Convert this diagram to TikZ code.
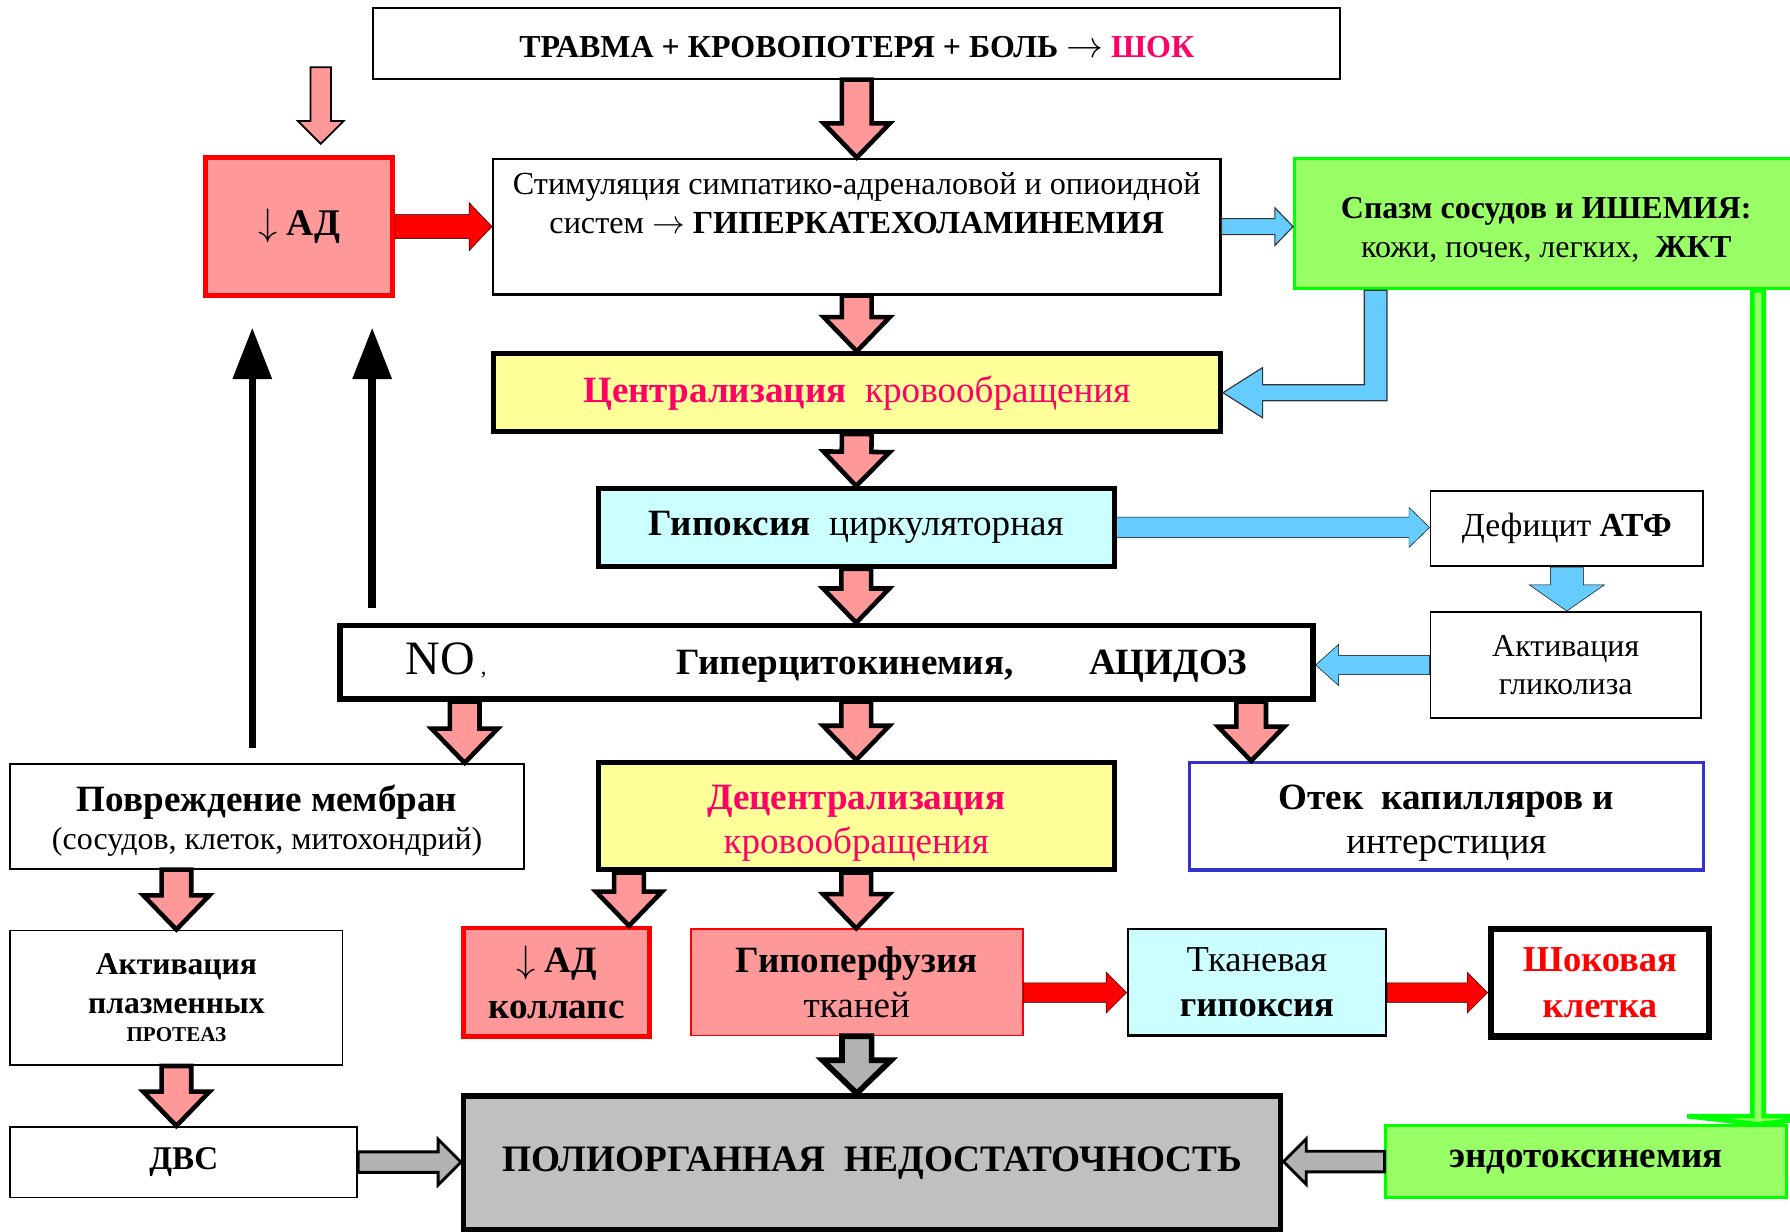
\documentclass[tikz,border=0pt]{standalone}
\usepackage{graphicx}
\usepackage{fontspec}
\setmainfont{Liberation Serif}
\usetikzlibrary{calc,arrows.meta}

\definecolor{cRose}{HTML}{FF9999}
\definecolor{cCrimson}{HTML}{FF0066}
\definecolor{cLemon}{HTML}{FFFF99}
\definecolor{cIce}{HTML}{CCFFFF}
\definecolor{cLime}{HTML}{99FF66}
\definecolor{cGrass}{HTML}{00FF00}
\definecolor{cSky}{HTML}{66CCFF}
\definecolor{cNavy}{HTML}{3333CC}
\definecolor{cGrey}{HTML}{C0C0C0}
\definecolor{cArrowGrey}{HTML}{B2B2B2}

\newcommand{\fsz}[2]{\fontsize{#1}{#2}\selectfont}
\newcommand{\fatarrow}[6][]{%
	\coordinate (fa-h) at ($(#3)!#6!(#2)$);
	\draw[#1] ($(#2)!#4!90:(#3)$) -- ($(fa-h)!#4!-90:(#2)$) -- ($(fa-h)!#5!-90:(#2)$) -- (#3)
		-- ($(fa-h)!#5!90:(#2)$) -- ($(fa-h)!#4!90:(#2)$) -- ($(#2)!#4!-90:(#3)$) -- cycle;}

\begin{document}
\begin{tikzpicture}[x=1pt, y=-1pt,
	box/.style={draw, line width=1.5pt, fill=white, inner sep=0pt, align=center},
	heavy/.style={box, line width=4.5pt},
	rosearrow/.style={draw=black, fill=cRose, line width=4pt},
	greyarrow/.style={draw=black, fill=cArrowGrey, line width=2.5pt},
	skyarrow/.style={fill=cSky},
	redarrow/.style={fill=red},
	riser/.style={line width=6.5pt, shorten <=13pt, shorten >=26pt, -{Triangle[length=45pt,width=33pt]}}]
		\useasboundingbox (0,0) rectangle (1568,1079);

		\draw (750.5,38) node (trauma) [box, minimum width=847, minimum height=62, font=\fsz{28}{32}\bfseries] {\rule{0pt}{25pt}ТРАВМА + КРОВОПОТЕРЯ + БОЛЬ \scalebox{1.3}{$\rightarrow$} \textcolor{cCrimson}{ШОК}};
		\draw (262,198.5) node (adtop) [box, draw=red, fill=cRose, line width=4pt, minimum width=164, minimum height=121, font=\fsz{33}{38}\bfseries] {\scalebox{1.35}{$\downarrow$} АД};
		\draw (750.5,198.5) node (stim) [box, line width=2pt, minimum width=637, minimum height=119, font=\fsz{28.2}{34}] {Стимуляция симпатико-адреналовой и опиоидной\\ систем \scalebox{1.15}{$\rightarrow$} \textbf{ГИПЕРКАТЕХОЛАМИНЕМИЯ}\\[8pt]\mbox{}};
		\draw (1354.5,196) node (spasm) [box, draw=cGrass, fill=cLime, line width=2.5pt, minimum width=441, minimum height=114, font=\fsz{28}{34}] {\rule{0pt}{29pt}\textbf{Спазм сосудов и ИШЕМИЯ:}\\ кожи, почек, легких,\ \ \textbf{ЖКТ}};

		\draw (750.5,344) node (centr) [heavy, fill=cLemon, text=cCrimson, minimum width=637, minimum height=68, font=\fsz{32.5}{36}] {\textbf{Централизация}\ \ кровообращения};
		\draw (750,462) node (hypox) [heavy, fill=cIce, minimum width=452, minimum height=68, font=\fsz{32.5}{36}] {\textbf{Гипоксия}\ \ циркуляторная};
		\draw (1372.5,463) node (deficit) [box, minimum width=239, minimum height=66, font=\fsz{29.5}{34}] {Дефицит \textbf{АТФ}};
		\draw (1371.5,582.5) node (glyc) [box, minimum width=237, minimum height=93, font=\fsz{28}{33}] {Активация\\гликолиза};
		\draw (724,580) node (nobox) [heavy, line width=5pt, minimum width=852, minimum height=64, font=\fsz{32.5}{36}] {{\fsz{42}{44}NO}\,{\fsz{20}{22},}\hspace{166pt}\textbf{Гиперцитокинемия,}\hspace{66pt}\textbf{АЦИДОЗ}};

		\draw (234,715) node (membr) [box, minimum width=450, minimum height=92, font=\fsz{28}{36}] {\rule{0pt}{31pt}{\fsz{32.5}{36}\bfseries Повреждение мембран}\\[-3pt](сосудов, клеток, митохондрий)};
		\draw (750,715) node (decentr) [heavy, fill=cLemon, text=cCrimson, minimum width=452, minimum height=94, font=\fsz{32.5}{39}] {\rule{0pt}{34pt}\textbf{Децентрализация}\\кровообращения};
		\draw (1267,715) node (otek) [box, draw=cNavy, line width=3pt, minimum width=450, minimum height=94, font=\fsz{32.5}{39}] {\rule{0pt}{34pt}\textbf{Отек\ \ капилляров и}\\интерстиция};

		\draw (154.5,874) node (plasm) [box, minimum width=291, minimum height=118, font=\fsz{27.7}{34}\bfseries] {Активация\\плазменных\\[-9pt]{\fsz{18.5}{20}ПРОТЕАЗ}};
		\draw (161,1018) node (dvs) [box, minimum width=304, minimum height=62, font=\fsz{29}{32}\bfseries] {ДВС};
		\draw (487.5,860.5) node (collapse) [box, draw=red, fill=cRose, line width=4pt, minimum width=163, minimum height=95, font=\fsz{32.5}{40}\bfseries] {\scalebox{1.35}{$\downarrow$} АД\\коллапс};
		\draw (750.5,860.5) node (hypoperf) [box, draw=red, fill=cRose, minimum width=291, minimum height=93, font=\fsz{32.5}{40}] {\textbf{Гипоперфузия}\\тканей};
		\draw (1101,860.5) node (tkan) [box, line width=2pt, fill=cIce, minimum width=226, minimum height=93, font=\fsz{32}{40}] {Тканевая\\\textbf{гипоксия}};
		\draw (1401.5,861) node (shock) [heavy, line width=5.5pt, text=red, minimum width=191, minimum height=94, font=\fsz{32}{40}\bfseries] {Шоковая\\клетка};

		\draw (764,1018.5) node (poli) [heavy, fill=cGrey, minimum width=716, minimum height=117, font=\fsz{32.7}{36}\bfseries] {ПОЛИОРГАННАЯ\ \ НЕДОСТАТОЧНОСТЬ};
		\draw (1389.5,1017.5) node (endo) [box, draw=cGrass, fill=cLime, line width=2.5pt, minimum width=351, minimum height=63, font=\fsz{32.5}{36}\bfseries] {эндотоксинемия};

		\coordinate (hint) at (281,59);
		\coordinate (hint-tip) at (281,126);
		\fatarrow[rosearrow, line width=1.5pt]{hint}{hint-tip}{9pt}{20pt}{20pt}
		\fatarrow[rosearrow]{trauma.south}{stim.north}{13pt}{29pt}{30pt}
		\fatarrow[rosearrow]{stim.south}{centr.north}{13pt}{29pt}{30pt}
		\fatarrow[rosearrow]{centr.south}{hypox.north}{13pt}{29pt}{30pt}
		\fatarrow[rosearrow]{hypox.south}{hypox.south |- nobox.north}{13pt}{29pt}{30pt}
		\fatarrow[rosearrow]{407,0 |- nobox.south}{407,0 |- membr.north}{13pt}{29pt}{30pt}
		\fatarrow[rosearrow]{decentr.north |- nobox.south}{decentr.north}{13pt}{29pt}{30pt}
		\fatarrow[rosearrow]{1096,0 |- nobox.south}{1096,0 |- otek.north}{13pt}{29pt}{30pt}
		\fatarrow[rosearrow]{plasm.north |- membr.south}{plasm.north}{13pt}{29pt}{30pt}
		\fatarrow[rosearrow]{plasm.south}{plasm.south |- dvs.north}{13pt}{29pt}{30pt}
		\fatarrow[rosearrow]{551,0 |- decentr.south}{551,0 |- collapse.north}{13pt}{29pt}{30pt}
		\fatarrow[rosearrow]{decentr.south}{decentr.south |- hypoperf.north}{13pt}{29pt}{30pt}

		\fatarrow[redarrow]{adtop.east}{adtop.east -| stim.west}{10.5pt}{21pt}{20pt}
		\coordinate (hp) at ([yshift=-9pt]hypoperf.east);
		\coordinate (tk) at ([yshift=-9pt]tkan.east);
		\fatarrow[redarrow]{hp}{hp -| tkan.west}{8.5pt}{18pt}{18pt}
		\fatarrow[redarrow]{tk}{tk -| shock.west}{8.5pt}{18pt}{18pt}

		\fatarrow[skyarrow, draw=black!80, line width=1pt]{stim.east}{stim.east -| spasm.west}{7pt}{16.5pt}{16pt}
		\draw[skyarrow, draw=black!80, line width=1pt] (1195,0 |- spasm.south) -- (1215,0 |- spasm.south) -- (1215,351) -- (1106,351) -- (1106,366) -- (centr.east) -- (1106,322) -- (1106,337) -- (1195,337) -- cycle;
		\fatarrow[skyarrow]{hypox.east}{hypox.east -| deficit.west}{9pt}{17.5pt}{18pt}
		\fatarrow[skyarrow]{deficit.south}{deficit.south |- glyc.north}{14.5pt}{33pt}{23pt}
		\fatarrow[skyarrow]{glyc.west}{glyc.west -| nobox.east}{8.5pt}{18pt}{20pt}

		\fatarrow[greyarrow, line width=5pt]{hypoperf.south}{hypoperf.south |- poli.north}{13pt}{30pt}{29pt}
		\fatarrow[greyarrow]{dvs.east}{dvs.east -| poli.west}{9pt}{20pt}{20pt}
		\fatarrow[greyarrow]{endo.west}{endo.west -| poli.east}{9pt}{20pt}{20pt}

		\fatarrow[draw=cGrass, fill=cLime, line width=4pt]{1540,0 |- spasm.south}{1540,0 |- endo.north}{5pt}{62pt}{7pt}

		\draw[riser] (221,0 |- membr.north) -- (221,0 |- adtop.south);
		\draw[riser] (326,0 |- nobox.north) -- (326,0 |- adtop.south);
	\end{tikzpicture}
\end{document}
